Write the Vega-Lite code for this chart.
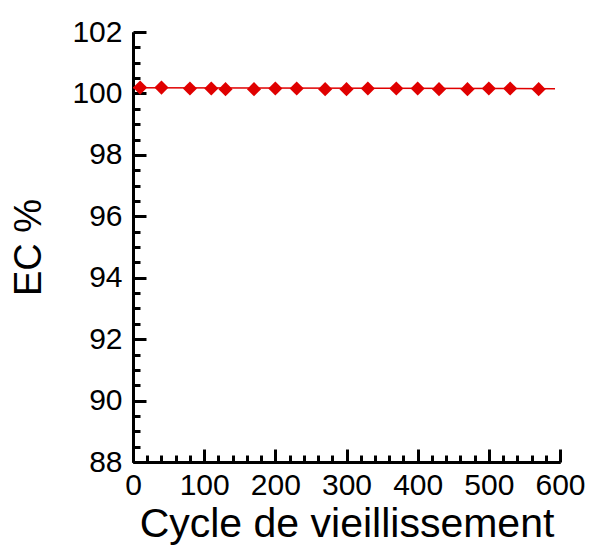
{
  "$schema": "https://vega.github.io/schema/vega-lite/v6.json",
  "width": 427,
  "height": 430,
  "autosize": {"type": "none"},
  "padding": {"left": 133, "top": 32, "right": 30, "bottom": 83},
  "background": "white",
  "config": {
    "view": {"stroke": null},
    "font": "Liberation Sans",
    "axis": {
      "domainColor": "black",
      "domainWidth": 3,
      "tickColor": "black",
      "tickWidth": 3,
      "grid": false,
      "labelFont": "Liberation Sans",
      "labelFontSize": 30,
      "labelColor": "black",
      "titleFont": "Liberation Sans",
      "titleFontWeight": "normal",
      "titleColor": "black"
    }
  },
  "datasets": {
    "points": [
      {"cycle": 10, "ec": 100.19},
      {"cycle": 40, "ec": 100.19},
      {"cycle": 80, "ec": 100.16},
      {"cycle": 110, "ec": 100.16},
      {"cycle": 130, "ec": 100.14},
      {"cycle": 170, "ec": 100.14},
      {"cycle": 200, "ec": 100.16},
      {"cycle": 230, "ec": 100.16},
      {"cycle": 270, "ec": 100.14},
      {"cycle": 300, "ec": 100.14},
      {"cycle": 330, "ec": 100.16},
      {"cycle": 370, "ec": 100.16},
      {"cycle": 400, "ec": 100.16},
      {"cycle": 430, "ec": 100.14},
      {"cycle": 470, "ec": 100.14},
      {"cycle": 500, "ec": 100.16},
      {"cycle": 530, "ec": 100.16},
      {"cycle": 570, "ec": 100.14}
    ],
    "fit": [
      {"cycle": 0, "ec": 100.185},
      {"cycle": 593, "ec": 100.155}
    ]
  },
  "resolve": {"axis": {"x": "independent", "y": "independent"}},
  "layer": [
    {
      "data": {"name": "fit"},
      "mark": {"type": "line", "color": "#e00000", "strokeWidth": 1.5, "clip": false},
      "encoding": {
        "x": {"field": "cycle", "type": "quantitative",
              "scale": {"domain": [0, 600], "nice": false, "zero": false},
              "axis": {"orient": "bottom", "values": [20,40,60,80,120,140,160,180,220,240,260,280,320,340,360,380,420,440,460,480,520,540,560,580],
                       "labels": false, "tickSize": -7, "title": null, "domain": true}},
        "y": {"field": "ec", "type": "quantitative",
              "scale": {"domain": [88, 102], "nice": false, "zero": false},
              "axis": {"orient": "left", "values": [88.5,89,89.5,90.5,91,91.5,92.5,93,93.5,94.5,95,95.5,96.5,97,97.5,98.5,99,99.5,100.5,101,101.5],
                       "labels": false, "tickSize": -7, "title": null, "domain": true}}
      }
    },
    {
      "data": {"name": "points"},
      "mark": {"type": "point", "shape": "diamond", "filled": true, "size": 200, "color": "#e00000", "opacity": 1, "clip": false},
      "encoding": {
        "x": {"field": "cycle", "type": "quantitative",
              "scale": {"domain": [0, 600], "nice": false, "zero": false},
              "axis": {"orient": "bottom", "values": [0,100,200,300,400,500,600], "tickSize": -13,
                       "labelPadding": 21, "labelFlush": false,
                       "title": "Cycle de vieillissement", "titleFontSize": 41, "titlePadding": 4}},
        "y": {"field": "ec", "type": "quantitative",
              "scale": {"domain": [88, 102], "nice": false, "zero": false},
              "axis": {"orient": "left", "values": [88,90,92,94,96,98,100,102], "tickSize": -13,
                       "labelPadding": 24, "labelFlush": false,
                       "title": "EC %", "titleFontSize": 38, "titlePadding": 23}}
      }
    }
  ]
}
